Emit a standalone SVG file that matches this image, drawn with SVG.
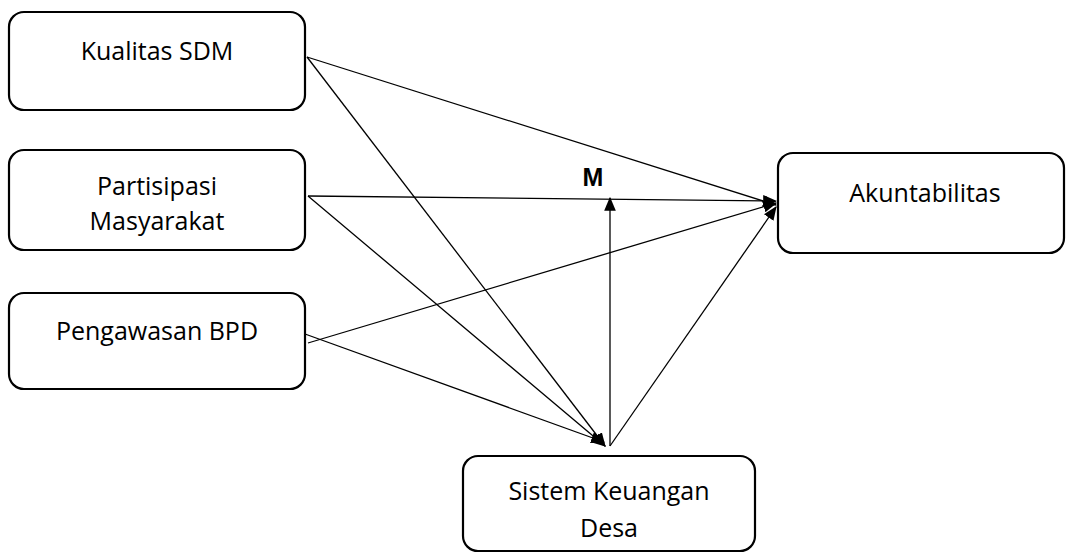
<svg xmlns="http://www.w3.org/2000/svg" width="1067" height="554" viewBox="0 0 1067 554">
<style>
.box{fill:#fff;stroke:#000;stroke-width:2.2}
.lbl{font-family:"Open Sans","Liberation Sans",sans-serif;font-size:25px;fill:#000;text-anchor:middle}
.ln{stroke:#000;stroke-width:1.3;fill:none;marker-end:url(#ah)}
.m{font-family:"Liberation Sans",sans-serif;font-size:25px;font-weight:bold;text-anchor:middle}
</style>
<defs>
<marker id="ah" viewBox="0 0 12 10" refX="11" refY="5" markerWidth="14" markerHeight="12" markerUnits="userSpaceOnUse" orient="auto">
<path d="M0,0 L12,5 L0,10 Z" fill="#000"/>
</marker>
</defs>
<rect width="1067" height="554" fill="#fff"/>
<g id="connectors">
<line class="ln" x1="307" y1="57" x2="776" y2="205"/>
<line class="ln" x1="307" y1="57" x2="605" y2="446"/>
<line class="ln" x1="308" y1="196" x2="776" y2="201"/>
<line class="ln" x1="308" y1="196" x2="605" y2="446"/>
<line class="ln" x1="308" y1="343" x2="776" y2="203"/>
<line class="ln" x1="305" y1="334" x2="604" y2="442"/>
<line class="ln" x1="610" y1="446" x2="610" y2="198"/>
<line class="ln" x1="610" y1="446" x2="776" y2="207"/>
</g>
<g id="kualitas">
<rect class="box" x="9" y="12" width="296" height="98" rx="15"/>
<text class="lbl" x="157" y="60">Kualitas SDM</text>
</g>
<g id="partisipasi">
<rect class="box" x="9" y="150" width="296" height="100" rx="15"/>
<text class="lbl" x="157" y="195">Partisipasi</text>
<text class="lbl" x="157" y="230">Masyarakat</text>
</g>
<g id="pengawasan">
<rect class="box" x="9" y="293" width="296" height="96" rx="15"/>
<text class="lbl" x="157" y="340">Pengawasan BPD</text>
</g>
<g id="akuntabilitas">
<rect class="box" x="778" y="153" width="286" height="100" rx="15"/>
<text class="lbl" x="925" y="202">Akuntabilitas</text>
</g>
<g id="skd">
<rect class="box" x="463" y="456" width="292" height="95" rx="15"/>
<text class="lbl" x="609" y="500">Sistem Keuangan</text>
<text class="lbl" x="609" y="537">Desa</text>
</g>
<g id="moderator">
<text class="m" x="593" y="186">M</text>
</g>
</svg>
